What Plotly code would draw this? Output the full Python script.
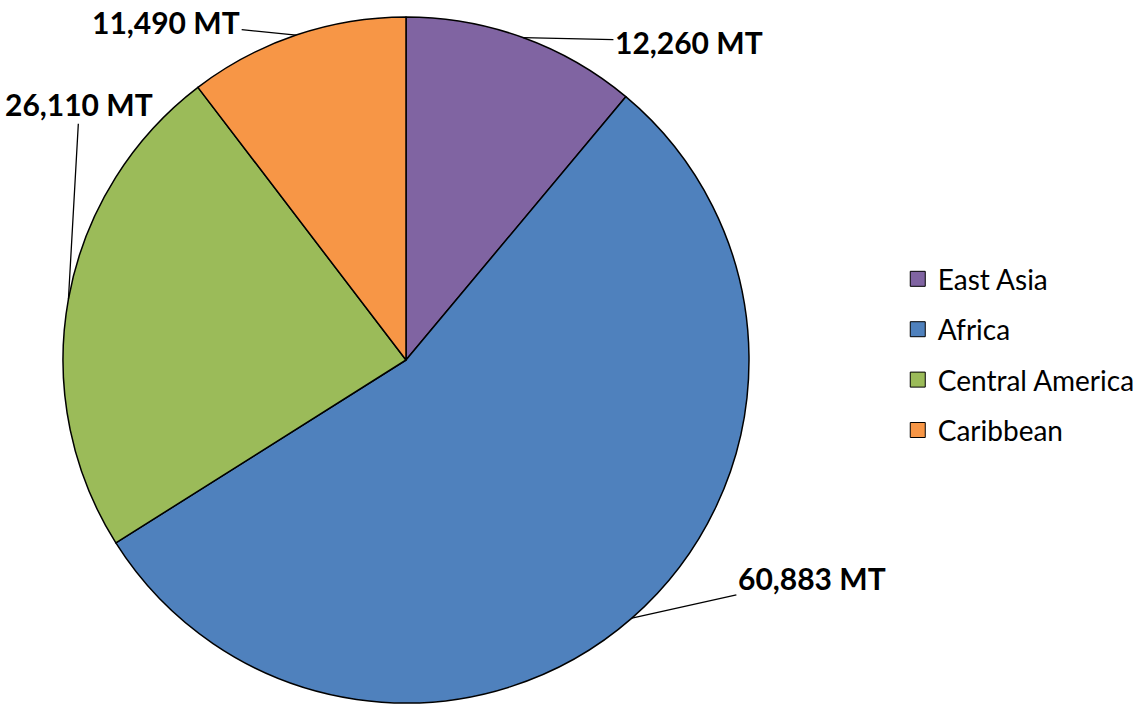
import math
import plotly.graph_objects as go

# Data
regions = ["East Asia", "Africa", "Central America", "Caribbean"]
tonnes = [12260, 60883, 26110, 11490]
colors = ["#8064A2", "#4F81BD", "#9BBB59", "#F79646"]
label_texts = ["12,260 MT", "60,883 MT", "26,110 MT", "11,490 MT"]

W, H = 1140, 705
FONT = "Lato, 'Open Sans', sans-serif"

# Pie geometry (pixels)
cx, cy, r = 406, 360, 343
dom_x = [(cx - r) / W, (cx + r) / W]
dom_y = [1 - (cy + r) / H, 1 - (cy - r) / H]

fig = go.Figure()
fig.add_trace(go.Pie(
    labels=regions,
    values=tonnes,
    sort=False,
    direction="clockwise",
    rotation=0,
    marker=dict(colors=colors, line=dict(color="black", width=1.5)),
    textinfo="none",
    hoverinfo="label+value",
    showlegend=False,
    domain=dict(x=dom_x, y=dom_y),
))

# Legend entries as separate groups so they can be spaced out
for name, col in zip(regions, colors):
    fig.add_trace(go.Scatter(
        x=[None], y=[None], mode="markers", name=name, legendgroup=name,
        marker=dict(symbol="square", size=15, color=col,
                    line=dict(color="black", width=1)),
    ))

# Outside value labels with leader lines, anchored at each slice's mid-angle
label_offsets = [(166, 4), (180, -40), (11, -195), (-130, -13)]
total = sum(tonnes)
cum = 0.0
annotations = []
for val, txt, (ax, ay) in zip(tonnes, label_texts, label_offsets):
    mid = (cum + val / 2) / total * 2 * math.pi
    cum += val
    px = cx + r * math.sin(mid)
    py = cy - r * math.cos(mid)
    annotations.append(dict(
        x=px / W, y=1 - py / H, xref="paper", yref="paper",
        ax=ax, ay=ay, axref="pixel", ayref="pixel",
        text=f"<b>{txt}</b>", showarrow=True, arrowhead=0,
        arrowwidth=1.3, arrowcolor="black", standoff=0,
        font=dict(family=FONT, size=30, color="black"),
    ))

fig.update_layout(
    width=W, height=H,
    margin=dict(l=0, r=0, t=0, b=0),
    paper_bgcolor="white", plot_bgcolor="white",
    xaxis=dict(visible=False), yaxis=dict(visible=False),
    annotations=annotations,
    legend=dict(
        x=0.7875, y=0.497, xanchor="left", yanchor="middle",
        font=dict(family=FONT, size=28, color="black"),
        tracegroupgap=11, itemclick=False,
    ),
)

fig.write_html("out.html")
